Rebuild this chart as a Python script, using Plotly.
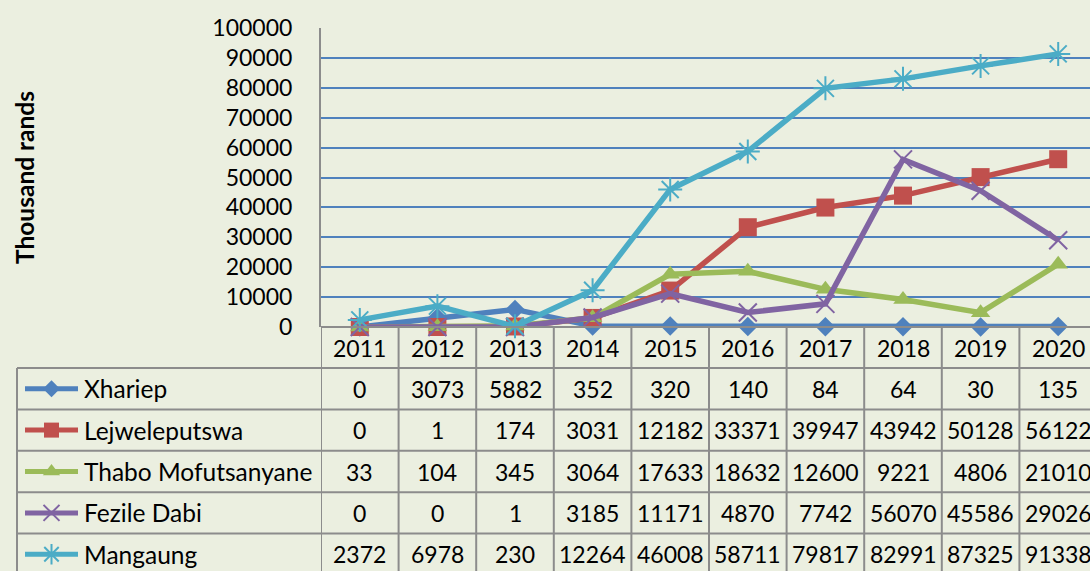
import plotly.graph_objects as go

# ---------------- data ----------------
years = [2011, 2012, 2013, 2014, 2015, 2016, 2017, 2018, 2019, 2020]
series_names = ["Xhariep", "Lejweleputswa", "Thabo Mofutsanyane", "Fezile Dabi", "Mangaung"]
xhariep = [0, 3073, 5882, 352, 320, 140, 84, 64, 30, 135]
lejweleputswa = [0, 1, 174, 3031, 12182, 33371, 39947, 43942, 50128, 56122]
thabo_mofutsanyane = [33, 104, 345, 3064, 17633, 18632, 12600, 9221, 4806, 21010]
fezile_dabi = [0, 0, 1, 3185, 11171, 4870, 7742, 56070, 45586, 29026]
mangaung = [2372, 6978, 230, 12264, 46008, 58711, 79817, 82991, 87325, 91338]
y_tick_values = list(range(0, 100001, 10000))
y_title = "Thousand rands"

series_values = [xhariep, lejweleputswa, thabo_mofutsanyane, fezile_dabi, mangaung]

# ---------------- styles ----------------
colors = ["#4F81BD", "#C0504D", "#9BBB59", "#8064A2", "#4BACC6"]
symbols = ["diamond", "square", "triangle-up", "x-thin-open", "asterisk-open"]
msizes = [15, 18, 17, 18, 20]
legend_msizes = [13, 15, 15, 16, 17]
BG = "#EBEFE0"
GRID = "#4F81BD"
TABLE_LINE = "#8C8C8C"
FONT = "Lato"
FS = 23
FS_NAME = 24.5

W, H = 1090, 571
plot_left, plot_top, plot_bottom = 321, 28, 327
col_w = 77.6
x0 = years[0] - 0.5
x1 = x0 + (W - plot_left) / col_w

header_bottom = 368
row_h = 41.4
row_bounds = [header_bottom + i * row_h for i in range(6)]
row_centers = [(row_bounds[i] + row_bounds[i + 1]) / 2 for i in range(5)]
header_center = (plot_bottom + header_bottom) / 2
table_left = 17
table_bottom = 576

fig = go.Figure()

# main series
for name, vals, c, sym, ms in zip(series_names, series_values, colors, symbols, msizes):
    open_sym = sym.endswith("open")
    fig.add_trace(go.Scatter(
        x=years, y=vals, name=name, mode="lines+markers",
        line=dict(color=c, width=5.5),
        marker=dict(symbol=sym, size=ms, color=c,
                    line=dict(color=c, width=2 if open_sym else 0)),
        cliponaxis=False, showlegend=False,
        xaxis="x", yaxis="y",
    ))

# legend samples in the data table (overlay pixel axes)
for i, (name, c, sym, ms) in enumerate(zip(series_names, colors, symbols, legend_msizes)):
    cy = row_centers[i]
    open_sym = sym.endswith("open")
    fig.add_trace(go.Scatter(
        x=[25, 78], y=[cy, cy], mode="lines",
        line=dict(color=c, width=5), showlegend=False, hoverinfo="skip",
        xaxis="x2", yaxis="y2", cliponaxis=False,
    ))
    fig.add_trace(go.Scatter(
        x=[51.5], y=[cy], mode="markers",
        marker=dict(symbol=sym, size=ms, color=c,
                    line=dict(color=c, width=2 if open_sym else 0)),
        showlegend=False, hoverinfo="skip",
        xaxis="x2", yaxis="y2", cliponaxis=False,
    ))

shapes = []
# x axis line
shapes.append(dict(type="line", xref="x2", yref="y2", x0=plot_left, x1=W,
                   y0=plot_bottom, y1=plot_bottom, line=dict(color=TABLE_LINE, width=2), layer="below"))
# vertical column lines in table (including y-axis continuation)
for k in range(len(years) + 1):
    xv = x0 + k
    shapes.append(dict(type="line", xref="x", yref="y2", x0=xv, x1=xv,
                       y0=plot_bottom, y1=table_bottom, line=dict(color=TABLE_LINE, width=2), layer="below"))
# horizontal row lines
for yb in row_bounds:
    shapes.append(dict(type="line", xref="x2", yref="y2", x0=table_left, x1=W,
                       y0=yb, y1=yb, line=dict(color=TABLE_LINE, width=2), layer="below"))
# table left border
shapes.append(dict(type="line", xref="x2", yref="y2", x0=table_left, x1=table_left,
                   y0=header_bottom, y1=table_bottom, line=dict(color=TABLE_LINE, width=2), layer="below"))

annotations = []
for yr in years:
    annotations.append(dict(x=yr, y=header_center, xref="x", yref="y2", text=str(yr),
                            showarrow=False, font=dict(family=FONT, size=FS, color="black")))
for i, (name, vals) in enumerate(zip(series_names, series_values)):
    cy = row_centers[i]
    annotations.append(dict(x=82, y=cy, xref="x2", yref="y2", text=name, xanchor="left",
                            showarrow=False, font=dict(family=FONT, size=FS_NAME, color="black")))
    for yr, v in zip(years, vals):
        annotations.append(dict(x=yr, y=cy, xref="x", yref="y2", text=str(v),
                                showarrow=False, font=dict(family=FONT, size=FS, color="black")))
annotations.append(dict(x=24, y=178, xref="x2", yref="y2", text="<b>" + y_title + "</b>",
                        textangle=-90, showarrow=False,
                        font=dict(family=FONT, size=24.5, color="black")))

fig.update_layout(
    width=W, height=H,
    margin=dict(l=0, r=0, t=0, b=0, pad=0, autoexpand=False),
    paper_bgcolor=BG, plot_bgcolor="rgba(0,0,0,0)",
    font=dict(family=FONT, size=FS, color="black"),
    showlegend=False,
    xaxis=dict(domain=[plot_left / W, 1], range=[x0, x1], showticklabels=False,
               showgrid=False, zeroline=False, showline=False, ticks="", anchor="y",
               fixedrange=True, automargin=False),
    yaxis=dict(domain=[(H - plot_bottom) / H, (H - plot_top) / H], range=[0, 100000],
               tickvals=y_tick_values, tickformat="d", ticks="",
               showgrid=True, gridcolor=GRID, gridwidth=2, zeroline=False,
               showline=True, linecolor=TABLE_LINE, linewidth=2,
               ticklabelstandoff=22, anchor="x", layer="below traces",
               tickfont=dict(family=FONT, size=FS, color="black"), fixedrange=True,
               automargin=False),
    xaxis2=dict(domain=[0, 1], range=[0, W], visible=False, anchor="y2", fixedrange=True,
                automargin=False),
    yaxis2=dict(domain=[0, 1], range=[H, 0], visible=False, anchor="x2", fixedrange=True,
                automargin=False),
    shapes=shapes,
    annotations=annotations,
)

fig.write_html("out.html", config={"displayModeBar": False},
               post_script="document.body.style.margin='0';document.body.style.overflow='hidden';")
